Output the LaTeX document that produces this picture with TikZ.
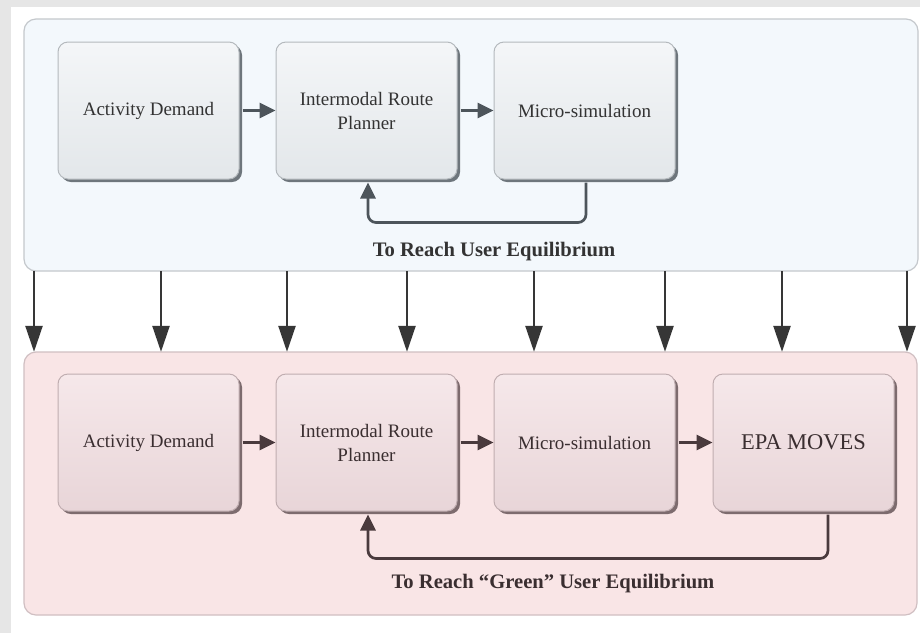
\documentclass[tikz,border=0pt]{standalone}
\usepackage{fontspec}
\setmainfont{Liberation Serif}
\usetikzlibrary{arrows.meta,calc}
\definecolor{bggray}{HTML}{E6E6E6}
\definecolor{topfill}{HTML}{F3F8FC}
\definecolor{topline}{HTML}{C4C8CC}
\definecolor{botfill}{HTML}{F9E5E6}
\definecolor{botline}{HTML}{D0BFC2}
\definecolor{tbtop}{HTML}{F4F6F8}
\definecolor{tbbot}{HTML}{E3E7EA}
\definecolor{tbline}{HTML}{B4B9BD}
\definecolor{tbshadow}{HTML}{6E767C}
\definecolor{bbtop}{HTML}{F6E8EA}
\definecolor{bbbot}{HTML}{E8D5D8}
\definecolor{bbline}{HTML}{C0ADB0}
\definecolor{bbshadow}{HTML}{7D6B6E}
\definecolor{tarrow}{HTML}{4D555B}
\definecolor{barrow}{HTML}{4A3A3D}
\definecolor{varrow}{HTML}{363636}
\definecolor{ttext}{HTML}{333333}
\definecolor{btext}{HTML}{3A2E30}
\begin{document}
\begin{tikzpicture}[x=1pt,y=-1pt,
  container/.style={rounded corners=12pt, line width=1.2pt},
  boxbase/.style={rounded corners=10pt, line width=1pt, minimum width=181pt, minimum height=137pt, inner sep=0pt, align=center, font=\fontsize{19}{24}\selectfont},
  tbox/.style={boxbase, draw=tbline, top color=tbtop, bottom color=tbbot, text=ttext,
    preaction={fill=tbshadow, draw=none, transform canvas={shift={(3pt,-3pt)}}}},
  bbox/.style={boxbase, draw=bbline, top color=bbtop, bottom color=bbbot, text=btext,
    preaction={fill=bbshadow, draw=none, transform canvas={shift={(3pt,-3pt)}}}},
  tarr/.style={draw=tarrow, line width=2.7pt, -{Triangle[length=16pt,width=15pt]}, rounded corners=8pt},
  barr/.style={draw=barrow, line width=2.7pt, -{Triangle[length=16pt,width=15pt]}, rounded corners=8pt},
  varr/.style={draw=varrow, line width=2.4pt, -{Triangle[length=26pt,width=17pt]}},
  lab/.style={font=\fontsize{20.6}{24}\selectfont\bfseries}
]
\useasboundingbox (0,0) rectangle (920,633);
\fill[bggray] (0,0) rectangle (920,633);
\fill[white] (11,7) rectangle (920,633);

% containers
\draw[container, draw=topline, fill=topfill] (24,19) rectangle (918,271);
\node[inner sep=0pt, minimum width=894pt, minimum height=252pt] (topc) at (471,145) {};
\draw[container, draw=botline, fill=botfill] (24,352) rectangle (917,615);
\node[inner sep=0pt, minimum width=893pt, minimum height=263pt] (botc) at (470.5,483.5) {};

% top boxes
\node[tbox] (ad1) at (148.5,110.5) {Activity Demand};
\node[tbox] (ip1) at (366.5,110.5) {Intermodal Route\\Planner};
\node[tbox] (ms1) at (584.5,110.5) {Micro-simulation};

% bottom boxes
\node[bbox] (ad2) at (148.5,442.5) {Activity Demand};
\node[bbox] (ip2) at (366.5,442.5) {Intermodal Route\\Planner};
\node[bbox] (ms2) at (584.5,442.5) {Micro-simulation};
\node[bbox, font=\fontsize{22.5}{26}\selectfont] (epa) at (803.5,442.5) {EPA MOVES};

% top arrows
\draw[tarr] ([xshift=3pt]ad1.east) -- (ip1.west);
\draw[tarr] ([xshift=3pt]ip1.east) -- (ms1.west);
\draw[tarr] ([xshift=1.5pt,yshift=-3pt]ms1.south) -- ++(0,40) -| ([xshift=1.5pt,yshift=-3pt]ip1.south);

% bottom arrows
\draw[barr] ([xshift=3pt]ad2.east) -- (ip2.west);
\draw[barr] ([xshift=3pt]ip2.east) -- (ms2.west);
\draw[barr] ([xshift=3pt]ms2.east) -- (epa.west);
\draw[barr] ([xshift=24.5pt,yshift=-3pt]epa.south) -- ++(0,44) -| ([xshift=1.5pt,yshift=-3pt]ip2.south);

% labels
\node[lab, text=ttext] (l1) at (494,251.5) {To Reach User Equilibrium};
\node[lab, text=btext] (l2) at (553,583.5) {To Reach “Green” User Equilibrium};

% vertical arrows
\foreach \x in {34,161,287,407,534,665,782,907}{
  \draw[varr] (topc.south -| \x,0) -- (botc.north -| \x,0);
}
\end{tikzpicture}
\end{document}
